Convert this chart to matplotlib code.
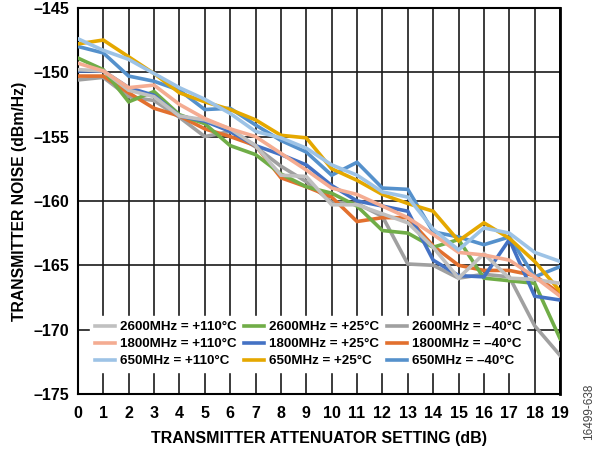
import matplotlib.pyplot as plt
import numpy as np

plt.rcParams['font.family'] = ['Liberation Sans', 'DejaVu Sans']

atten = np.arange(20)

# legend order (column-wise): +110, +25, -40
labels = ['2600MHz = +110°C', '1800MHz = +110°C', '650MHz = +110°C',
          '2600MHz = +25°C', '1800MHz = +25°C', '650MHz = +25°C',
          '2600MHz = \u201340°C', '1800MHz = \u201340°C', '650MHz = \u201340°C']
colors = ['#C0C0C0', '#F4AC92', '#9DC3E6',
          '#70AD47', '#4472C4', '#E5A800',
          '#A0A0A0', '#E2702E', '#5591CC']

n2600_110 = [-149.8, -149.9, -151.4, -151.9, -153.4, -153.7, -154.4, -155.7, -158.0, -158.1,
             -160.3, -160.3, -161.0, -161.7, -163.6, -166.0, -164.1, -166.0, -166.1, -166.4]
n1800_110 = [-149.3, -149.9, -151.2, -151.0, -152.5, -153.6, -154.4, -155.0, -156.3, -157.6,
             -159.0, -159.5, -160.4, -161.3, -162.6, -164.0, -164.2, -164.6, -165.9, -167.4]
n650_110 = [-147.4, -148.3, -149.0, -150.1, -151.2, -152.1, -153.2, -154.6, -155.1, -155.9,
            -157.2, -158.0, -159.3, -159.7, -162.2, -163.8, -162.1, -162.5, -164.0, -164.7]
n2600_25 = [-148.9, -149.8, -152.3, -151.5, -153.3, -154.0, -155.7, -156.4, -157.9, -158.9,
            -159.4, -160.4, -162.3, -162.5, -163.6, -163.0, -166.0, -166.2, -166.4, -170.7]
n1800_25 = [-149.9, -149.9, -151.2, -151.8, -153.4, -153.8, -154.6, -155.7, -156.4, -157.2,
            -158.8, -160.0, -160.4, -160.8, -164.6, -165.8, -165.9, -163.0, -167.4, -167.7]
n650_25 = [-147.8, -147.5, -148.8, -150.1, -151.6, -152.3, -152.9, -153.7, -154.9, -155.1,
           -157.5, -158.4, -159.5, -160.2, -160.8, -163.1, -161.7, -162.9, -164.7, -167.0]
n2600_m40 = [-150.6, -150.4, -151.9, -152.2, -153.5, -155.0, -154.6, -155.8, -157.3, -158.5,
             -160.1, -160.2, -161.2, -164.9, -165.0, -166.0, -165.7, -165.9, -169.7, -172.0]
n1800_m40 = [-150.3, -150.3, -151.6, -152.8, -153.4, -154.4, -155.0, -155.7, -158.2, -158.9,
             -159.7, -161.6, -161.3, -161.3, -163.5, -165.0, -165.4, -165.4, -165.8, -167.2]
n650_m40 = [-148.0, -148.5, -150.3, -150.7, -151.4, -152.9, -152.8, -154.1, -155.3, -156.2,
            -158.0, -157.0, -159.0, -159.1, -162.4, -162.8, -163.4, -162.8, -165.9, -165.1]

series = [n2600_110, n1800_110, n650_110, n2600_25, n1800_25, n650_25,
          n2600_m40, n1800_m40, n650_m40]
zorders = [7, 8, 9, 4, 5, 6, 1, 2, 3]

fig = plt.figure(figsize=(5.99, 4.49), dpi=100)
ax = fig.add_axes([0.130, 0.1225, 0.805, 0.860])

for vals, lab, col, z in zip(series, labels, colors, zorders):
    ax.plot(atten, vals, color=col, linewidth=2.6, label=lab, zorder=z + 2,
            solid_joinstyle='miter')

ax.set_xlim(0, 19)
ax.set_ylim(-175, -145)
ax.set_xticks(atten)
ax.set_yticks(np.arange(-175, -144, 5))
ax.set_yticklabels(['\u2013%d' % abs(v) for v in np.arange(-175, -144, 5)])
ax.tick_params(axis='both', length=0, labelsize=11.5)
ax.tick_params(axis='x', pad=9)
ax.tick_params(axis='y', pad=6)
for t in ax.get_xticklabels() + ax.get_yticklabels():
    t.set_fontweight('bold')

ax.grid(True, color='#1a1a1a', linewidth=1.2)
ax.set_axisbelow(True)
for s in ax.spines.values():
    s.set_linewidth(1.5)
ax.spines['right'].set_linewidth(2)

ax.set_xlabel('TRANSMITTER ATTENUATOR SETTING (dB)', fontsize=11.5, fontweight='bold', labelpad=7)
ax.set_ylabel('TRANSMITTER NOISE (dBm/Hz)', fontsize=11.3, fontweight='bold', labelpad=5)

leg = ax.legend(loc='lower left', bbox_to_anchor=(0.012, 0.04), ncol=3,
                frameon=True, fancybox=False, framealpha=1, edgecolor='white',
                prop={'weight': 'bold', 'size': 9.6}, handlelength=1.5,
                columnspacing=0.6, handletextpad=0.35, labelspacing=0.34,
                borderpad=0.35)
leg.set_zorder(20)

fig.text(0.984, 0.02, '16499-638', rotation=90, fontsize=8.5, color='#444444',
         ha='center', va='bottom')

plt.savefig('out.png', dpi=100)
